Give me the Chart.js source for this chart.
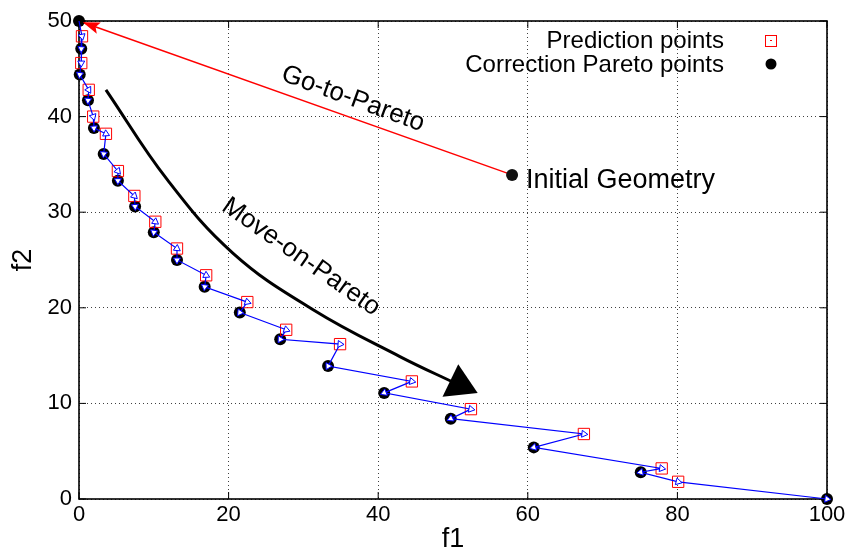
<!DOCTYPE html>
<html lang="en">
<head>
    <meta charset="UTF-8">
    <script src="https://cdn.jsdelivr.net/npm/chart.js"></script>
    <title>Go-to-Pareto / Move-on-Pareto</title>
    <style>
    body {
        margin: 0;
        background-color: white;
    }
    #paretoChart {
        display: block;
    }
</style>
</head>
<body>
    <canvas id="paretoChart" width="851" height="551"></canvas>

    <script>
        // Correction Pareto points (black dots)
        const corrF1 = [0, 0.3, 0.1, 1.2, 2.0, 3.3, 5.2, 7.5, 10.0, 13.1, 16.8, 21.5, 26.9, 33.3, 40.8, 49.7, 60.8, 75.1, 100];
        const corrF2 = [50, 47.1, 44.4, 41.7, 38.8, 36.1, 33.3, 30.6, 27.9, 25.0, 22.2, 19.5, 16.7, 13.9, 11.1, 8.4, 5.4, 2.8, 0];
        // Prediction points (red squares)
        const predF1 = [0.4, 0.3, 1.3, 1.9, 3.6, 5.2, 7.4, 10.2, 13.1, 17.0, 22.5, 27.7, 34.9, 44.5, 52.4, 67.5, 77.9, 80.1];
        const predF2 = [48.4, 45.6, 42.8, 40.0, 38.2, 34.3, 31.7, 29.0, 26.2, 23.4, 20.6, 17.7, 16.2, 12.3, 9.4, 6.8, 3.2, 1.8];
        // Initial geometry and the Go-to-Pareto target
        const goF1 = [57.9, 0];
        const goF2 = [33.9, 50];
        // Move-on-Pareto curved arrow
        const moveF1 = [3.6, 11.8, 20.6, 31.3, 42.9, 50.6];
        const moveF2 = [42.8, 33.4, 25.7, 19.8, 14.9, 12.0];
        const moveHeadF1 = [53.3, 50.7, 48.6];
        const moveHeadF2 = [11.1, 14.1, 10.7];
        // Axis ticks
        const xTicks = [0, 20, 40, 60, 80, 100];
        const yTicks = [0, 10, 20, 30, 40, 50];

        const FONT = '"Liberation Sans", Arial, sans-serif';

        // path goes correction -> prediction -> correction ...
        const pathPoints = [];
        for (let i = 0; i < corrF1.length; i++) {
            pathPoints.push({x: corrF1[i], y: corrF2[i]});
            if (i < predF1.length) pathPoints.push({x: predF1[i], y: predF2[i]});
        }
        const toXY = (xs, ys) => xs.map((v, i) => ({x: v, y: ys[i]}));

        // arrowhead direction for each path point
        function headRotation(ctx) {
            const i = ctx.dataIndex;
            if (i === 0) return 0;
            const sx = ctx.chart.scales.x, sy = ctx.chart.scales.y;
            const a = pathPoints[i - 1], b = pathPoints[i];
            const dx = sx.getPixelForValue(b.x) - sx.getPixelForValue(a.x);
            const dy = sy.getPixelForValue(b.y) - sy.getPixelForValue(a.y);
            return Math.atan2(dx, -dy) * 180 / Math.PI;
        }

        function fillHead(c, tipX, tipY, fromX, fromY, len, halfW) {
            const ang = Math.atan2(tipY - fromY, tipX - fromX);
            const bx = tipX - len * Math.cos(ang), by = tipY - len * Math.sin(ang);
            c.beginPath();
            c.moveTo(tipX, tipY);
            c.lineTo(bx + halfW * Math.sin(ang), by - halfW * Math.cos(ang));
            c.lineTo(tipX - len * 0.8 * Math.cos(ang), tipY - len * 0.8 * Math.sin(ang));
            c.lineTo(bx - halfW * Math.sin(ang), by + halfW * Math.cos(ang));
            c.closePath();
            c.fill();
        }

        // frame, inner ticks, annotations and key
        const decorations = {
            id: 'decorations',
            beforeDatasetsDraw(chart) {
                const c = chart.ctx, a = chart.chartArea;
                const sx = chart.scales.x, sy = chart.scales.y;
                c.save();
                c.strokeStyle = '#000';
                c.lineWidth = 1;
                c.beginPath();
                xTicks.forEach(v => {
                    const px = sx.getPixelForValue(v);
                    c.moveTo(px, a.bottom); c.lineTo(px, a.bottom - 7);
                    c.moveTo(px, a.top); c.lineTo(px, a.top + 7);
                });
                yTicks.forEach(v => {
                    const py = sy.getPixelForValue(v);
                    c.moveTo(a.left, py); c.lineTo(a.left + 7, py);
                    c.moveTo(a.right, py); c.lineTo(a.right - 7, py);
                });
                c.stroke();
                c.lineWidth = 1.6;
                c.strokeRect(a.left, a.top, a.right - a.left, a.bottom - a.top);
                c.restore();
            },
            afterDatasetsDraw(chart) {
                const c = chart.ctx;
                const sx = chart.scales.x, sy = chart.scales.y;
                c.save();
                // Go-to-Pareto head
                c.fillStyle = '#ff0000';
                const gx0 = sx.getPixelForValue(goF1[0]), gy0 = sy.getPixelForValue(goF2[0]);
                const gx1 = sx.getPixelForValue(goF1[1]), gy1 = sy.getPixelForValue(goF2[1]);
                const gAng = Math.atan2(gy1 - gy0, gx1 - gx0);
                fillHead(c, gx1 - 4 * Math.cos(gAng), gy1 - 4 * Math.sin(gAng), gx0, gy0, 17, 6);
                // Move-on-Pareto head
                c.fillStyle = '#000';
                c.beginPath();
                moveHeadF1.forEach((v, i) => {
                    const px = sx.getPixelForValue(v), py = sy.getPixelForValue(moveHeadF2[i]);
                    if (i === 0) c.moveTo(px, py); else c.lineTo(px, py);
                });
                c.closePath();
                c.fill();

                // texts
                c.fillStyle = '#000';
                c.font = '26px ' + FONT;
                c.textAlign = 'center';
                c.textBaseline = 'middle';
                c.save();
                c.translate(353, 99);
                c.rotate(20 * Math.PI / 180);
                c.fillText('Go-to-Pareto', 0, 0);
                c.restore();
                c.save();
                c.translate(301, 257);
                c.rotate(35 * Math.PI / 180);
                c.fillText('Move-on-Pareto', 0, 0);
                c.restore();
                c.font = '27px ' + FONT;
                c.textAlign = 'left';
                c.textBaseline = 'alphabetic';
                c.fillText('Initial Geometry', 526, 188);

                // key
                c.font = '24px ' + FONT;
                c.textAlign = 'right';
                c.fillText('Prediction points', 724, 48);
                c.fillText('Correction Pareto points', 724, 72);
                c.strokeStyle = '#ff0000';
                c.lineWidth = 1;
                c.strokeRect(765.5, 35.5, 11, 11);
                c.fillStyle = '#ff0000';
                c.fillRect(770, 40, 2, 1);
                c.fillStyle = '#000';
                c.beginPath();
                c.arc(771, 64, 5.5, 0, Math.PI * 2);
                c.fill();
                c.restore();
            }
        };

        const chart = new Chart(document.getElementById('paretoChart'), {
            type: 'line',
            data: {
                datasets: [
                    {
                        label: 'path',
                        data: pathPoints,
                        borderColor: '#0000ff',
                        borderWidth: 1.2,
                        pointStyle: 'triangle',
                        pointRadius: ctx => ctx.dataIndex === 0 ? 0 : 4,
                        pointRotation: headRotation,
                        pointBorderColor: '#0000ff',
                        pointBackgroundColor: '#ffffff',
                        pointBorderWidth: 1,
                        clip: false,
                        order: 0
                    },
                    {
                        label: 'Prediction points',
                        data: toXY(predF1, predF2),
                        showLine: false,
                        pointStyle: 'rect',
                        pointRadius: 8,
                        pointBorderColor: '#ff0000',
                        pointBackgroundColor: 'rgba(0,0,0,0)',
                        pointBorderWidth: 1,
                        clip: false,
                        order: 1
                    },
                    {
                        label: 'Correction Pareto points',
                        data: toXY(corrF1, corrF2),
                        showLine: false,
                        pointStyle: 'circle',
                        pointRadius: 6,
                        pointBorderWidth: 0,
                        pointBackgroundColor: '#000',
                        clip: false,
                        order: 2
                    },
                    {
                        label: 'Go-to-Pareto',
                        data: toXY(goF1, goF2),
                        borderColor: '#ff0000',
                        borderWidth: 1.5,
                        pointRadius: [6, 0],
                        pointBorderWidth: 0,
                        pointBackgroundColor: '#111',
                        clip: false,
                        order: 3
                    },
                    {
                        label: 'Move-on-Pareto',
                        data: toXY(moveF1, moveF2),
                        borderColor: '#000',
                        borderWidth: 3,
                        pointRadius: 0,
                        tension: 0.4,
                        order: 4
                    }
                ]
            },
            options: {
                responsive: false,
                animation: false,
                devicePixelRatio: 1,
                layout: { padding: { top: 21, right: 24, left: 0, bottom: 0 } },
                plugins: {
                    legend: { display: false },
                    tooltip: { enabled: false }
                },
                scales: {
                    x: {
                        type: 'linear',
                        min: 0,
                        max: 100,
                        afterFit: s => { s.height = 52; },
                        afterBuildTicks: s => { s.ticks = xTicks.map(v => ({value: v})); },
                        ticks: { color: '#000', padding: 3, font: { family: FONT, size: 22 } },
                        grid: { color: 'rgba(0,0,0,0.75)', lineWidth: 1, drawTicks: false },
                        border: { display: false, dash: [1, 3] },
                        title: {
                            display: true, text: 'f1', color: '#000',
                            font: { family: FONT, size: 27, lineHeight: 1 },
                            padding: { top: 0, bottom: -2 }
                        }
                    },
                    y: {
                        type: 'linear',
                        min: 0,
                        max: 50,
                        afterFit: s => { s.width = 79; },
                        afterBuildTicks: s => { s.ticks = yTicks.map(v => ({value: v})); },
                        ticks: { color: '#000', padding: 7, font: { family: FONT, size: 22 } },
                        grid: { color: 'rgba(0,0,0,0.75)', lineWidth: 1, drawTicks: false },
                        border: { display: false, dash: [1, 3] },
                        title: {
                            display: true, text: 'f2', color: '#000',
                            font: { family: FONT, size: 27, lineHeight: 1 },
                            padding: { top: 10, bottom: 0 }
                        }
                    }
                }
            },
            plugins: [decorations]
        });
    </script>
</body>
</html>
